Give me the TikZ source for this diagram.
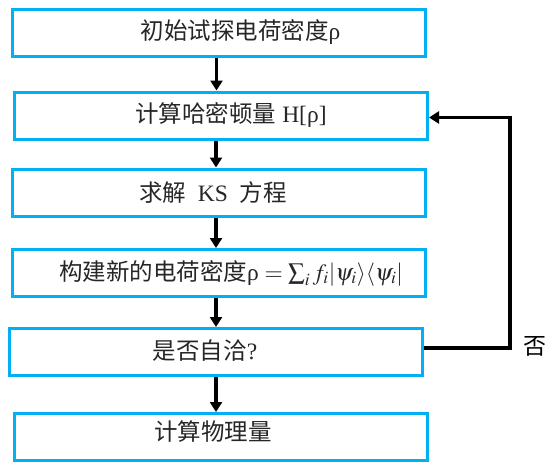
\documentclass[tikz,border=0pt]{standalone}
\usepackage{mathptmx}
\usepackage{fontspec}
\setmainfont{Liberation Serif}
\newfontfamily\cjk{Noto Sans CJK SC}
\usetikzlibrary{arrows.meta}
\definecolor{azzurro}{RGB}{0,176,240}
\tikzset{
  passo/.style={draw=azzurro, line width=3pt, minimum width=413pt, minimum height=47pt, inner sep=0pt},
  testo/.style={font=\fontsize{23.5}{27}\selectfont, text=black!85},
  freccia/.style={-{Triangle[length=10pt,width=12pt]}, line width=3.4pt}
}
\begin{document}
\begin{tikzpicture}[x=1pt,y=-1pt]
        \useasboundingbox (0,0) rectangle (554,469);
        % Passi del ciclo
        \node[passo, label={[testo, xshift=22pt]center:{\cjk 初始试探电荷密度}ρ}] (rho0) at (218.5,32.5) {};
        \node[passo, label={[testo, xshift=10pt]center:{\cjk 计算哈密顿量} H[ρ]}] (ham) at (221,115.5) {};
        \node[passo, label={[testo, xshift=-6pt]center:{\cjk 求解}\ \ KS\ \ {\cjk 方程}}] (ks) at (219,192.5) {};
        \node[passo, label={[testo, xshift=12pt]center:{\cjk 构建新的电荷密度}ρ $=\sum_i f_i|\psi_i\rangle\langle\psi_i|$}] (rho) at (219,273) {};
        \node[passo, label={[testo, xshift=-11pt, yshift=1pt]center:{\cjk 是否自洽}?}] (conv) at (216,352) {};
        \node[passo, label={[testo, xshift=-8pt, yshift=5pt]center:{\cjk 计算物理量}}] (fine) at (221,437) {};

        % Frecce verticali
        \draw[freccia] (rho0.south) ++(-2,0) coordinate (a1) -- (a1 |- ham.north);
        \draw[freccia] (ham.south) ++(-5,0) coordinate (a2) -- (a2 |- ks.north);
        \draw[freccia] (ks.south) ++(-3,0) coordinate (a3) -- (a3 |- rho.north);
        \draw[freccia] (rho.south) ++(-3,0) coordinate (a4) -- (a4 |- conv.north);
        \draw[freccia] (conv.south) ++(0,0) coordinate (a5) -- (a5 |- fine.north);

        % Ritorno
        \draw[freccia] (conv.east) ++(0,-4) coordinate (r0) -- ++(86,0) coordinate (giro) |- ([yshift=-2pt]ham.east);
        \node[font=\cjk\fontsize{23}{26}\selectfont] (no) at (534.5,346.5) {否};
      \end{tikzpicture}
\end{document}
